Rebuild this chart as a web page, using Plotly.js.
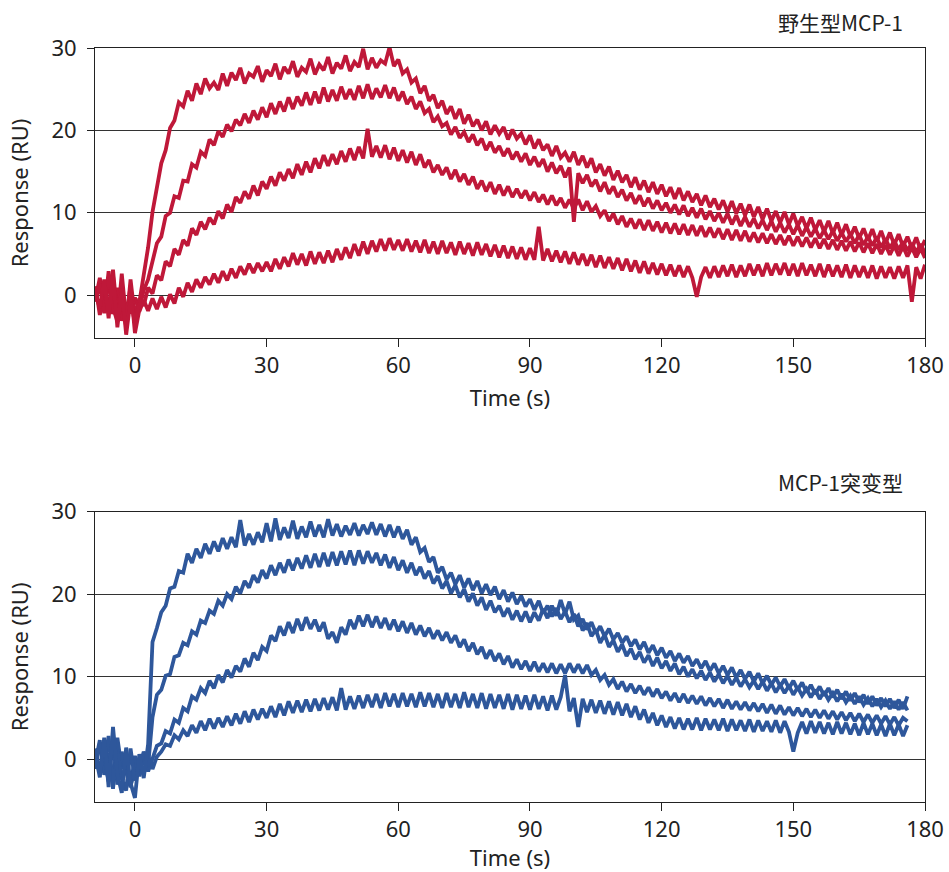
<!DOCTYPE html>
<html>
<head>
<meta charset="utf-8">
<script src="https://cdn.plot.ly/plotly-3.0.1.min.js"></script>
<style>html,body{margin:0;padding:0;background:#fff;}#chart{width:949px;height:872px;}</style>
</head>
<body>
<div id="chart"></div>
<script>
// time points (s)
const timeS = [
-9,-8,-7,-6,-5,-4,-3,-2,-1,0,
1,2,3,4,5,6,7,8,9,10,
11,12,13,14,15,16,17,18,19,20,
21,22,23,24,25,26,27,28,29,30,
31,32,33,34,35,36,37,38,39,40,
41,42,43,44,45,46,47,48,49,50,
51,52,53,54,55,56,57,58,59,60,
61,62,63,64,65,66,67,68,69,70,
71,72,73,74,75,76,77,78,79,80,
81,82,83,84,85,86,87,88,89,90,
91,92,93,94,95,96,97,98,99,100,
101,102,103,104,105,106,107,108,109,110,
111,112,113,114,115,116,117,118,119,120,
121,122,123,124,125,126,127,128,129,130,
131,132,133,134,135,136,137,138,139,140,
141,142,143,144,145,146,147,148,149,150,
151,152,153,154,155,156,157,158,159,160,
161,162,163,164,165,166,167,168,169,170,
171,172,173,174,175,176,177,178,179,180];

// 野生型MCP-1 (top panel), four concentrations
const wtA = [
0.3,-1.6,1.9,-2.8,2.4,-3.9,0.8,-4.8,-0.6,-3.4,
-0.9,2.2,5.8,10.1,12.9,16.0,17.6,20.3,21.2,23.4,
22.9,24.8,23.6,25.7,24.4,26.3,25.1,25.8,24.9,26.9,
25.4,27.0,26.1,27.6,25.7,26.9,26.5,27.8,25.9,27.3,
26.6,28.1,26.2,27.7,26.9,28.4,26.5,27.6,27.1,28.7,
26.8,28.0,27.3,28.9,26.9,28.2,27.5,29.1,27.2,28.3,
27.7,29.9,27.4,28.8,27.6,28.5,28.1,30.1,27.8,28.6,
26.9,27.4,25.8,26.3,24.5,25.4,23.6,24.3,22.7,23.6,
22.0,22.9,21.4,22.6,20.8,21.9,20.5,21.3,20.0,21.1,
19.5,20.6,19.6,20.4,18.9,20.1,19.0,19.6,18.3,19.4,
17.8,18.9,17.6,18.3,16.9,18.1,16.7,17.3,16.2,17.4,
15.8,16.9,15.5,16.6,14.9,15.9,14.5,15.6,14.0,15.1,
13.7,14.6,13.1,14.3,12.8,13.9,12.5,13.7,12.3,13.4,
12.0,13.1,11.7,13.0,11.5,12.6,11.3,12.3,10.9,12.1,
10.7,11.7,10.4,11.5,10.1,11.4,9.9,11.1,9.7,11.0,
9.5,10.7,9.2,10.5,9.0,10.2,8.8,10.1,8.6,9.9,
8.4,9.5,8.1,9.4,7.9,9.1,7.7,9.0,7.5,8.8,
7.3,8.6,7.1,8.3,6.9,8.1,6.7,8.0,6.5,7.8,
6.3,7.6,6.1,7.4,5.9,7.1,5.7,7.0,5.5,6.7];
const wtB = [
-0.8,1.4,-2.2,2.9,-1.5,-3.2,2.6,-2.9,1.1,-4.6,
-1.8,0.6,1.9,4.2,6.3,7.1,9.6,10.0,12.0,11.8,
13.9,13.8,15.9,15.5,17.4,16.9,18.9,18.2,19.9,19.2,
20.7,19.9,21.3,20.6,22.0,20.9,22.4,21.3,22.8,21.6,
23.3,22.0,23.5,22.3,24.0,22.6,24.1,23.0,24.6,23.1,
24.7,23.3,25.2,23.5,24.9,23.6,25.3,23.8,25.0,23.7,
25.4,23.9,25.6,23.8,25.1,24.0,25.5,23.9,25.2,23.6,
24.7,23.2,24.1,22.6,23.5,22.1,22.6,21.0,21.7,20.5,
20.9,19.5,20.4,19.1,19.8,18.6,19.5,18.2,19.0,17.6,
18.6,17.3,18.1,16.9,17.8,16.5,17.4,16.2,17.2,15.8,
16.8,15.6,16.5,15.0,16.1,14.8,15.7,14.3,15.5,8.9,
14.8,13.6,14.6,13.2,14.0,12.6,13.7,12.3,13.2,11.9,
12.8,11.5,12.4,11.1,12.1,10.8,11.8,10.5,11.5,10.3,
11.2,10.0,11.0,9.8,10.9,9.6,10.6,9.4,10.5,9.2,
10.2,9.0,10.0,8.8,9.9,8.6,9.7,8.4,9.5,8.3,
9.3,8.1,9.1,7.9,9.0,7.7,8.8,7.6,8.6,7.4,
8.5,7.2,8.3,7.1,8.1,6.9,7.9,6.8,7.8,6.6,
7.6,6.5,7.4,6.3,7.3,6.1,7.1,6.0,7.0,5.8,
6.8,5.7,6.6,5.5,6.5,5.4,6.3,5.2,6.2,5.1];
const wtC = [
1.1,-2.4,0.6,-1.7,3.1,-2.6,-0.9,-3.8,1.9,-2.7,
-0.4,-1.3,0.9,0.2,2.4,1.8,4.1,3.5,5.6,4.9,
6.7,6.0,8.1,7.3,8.9,8.0,9.4,8.6,10.2,9.3,
11.0,10.1,11.9,11.2,12.6,11.7,13.3,12.1,13.8,12.9,
14.4,13.3,14.9,13.9,15.3,14.2,15.9,14.6,16.2,14.9,
16.6,15.4,17.0,15.7,17.1,15.9,17.5,16.2,17.8,16.4,
18.0,16.6,20.2,16.8,18.1,16.7,18.2,16.5,17.9,16.3,
17.6,16.1,17.4,15.8,17.1,15.5,16.4,14.9,15.8,14.6,
15.5,14.1,15.2,13.8,14.7,13.4,14.4,12.9,13.9,12.6,
13.7,12.3,13.4,12.1,13.2,11.9,12.9,11.8,12.7,11.5,
12.5,11.3,12.2,11.0,12.1,10.9,11.8,10.6,11.6,10.5,
11.6,10.3,11.4,10.1,10.8,9.6,10.3,9.0,9.9,8.6,
9.6,8.3,9.3,8.1,9.2,7.9,9.1,7.8,8.9,7.6,
8.8,7.5,8.7,7.4,8.6,7.3,8.5,7.2,8.4,7.1,
8.2,7.0,8.1,6.8,8.0,6.7,7.9,6.6,7.8,6.5,
7.6,6.4,7.5,6.3,7.4,6.2,7.3,6.1,7.2,6.0,
7.1,5.9,7.0,5.8,6.9,5.7,6.8,5.6,6.7,5.5,
6.6,5.4,6.5,5.3,6.4,5.2,6.3,5.1,6.2,5.0,
6.1,4.9,6.0,4.8,5.9,4.7,5.8,4.6,5.7,4.5];
const wtD = [
-0.5,2.1,-1.1,1.6,-2.3,0.9,-3.1,-1.4,-2.2,-0.3,
-2.0,-0.6,-1.9,-0.4,-1.7,-0.2,-1.5,0.1,-1.0,0.9,
-0.2,1.5,0.4,1.9,0.9,2.2,1.3,2.6,1.5,2.9,
1.8,3.2,2.1,3.5,2.5,3.8,2.7,3.9,2.9,4.0,
2.9,4.4,3.2,4.6,3.5,5.1,3.7,5.0,3.6,5.3,
3.8,5.2,3.9,5.4,4.0,5.6,4.3,5.8,4.5,6.2,
4.8,6.5,5.0,6.6,5.3,6.8,5.4,6.9,5.5,6.7,
5.4,6.8,5.3,6.6,5.2,6.7,5.1,6.5,5.0,6.6,
5.1,6.4,4.9,6.5,5.0,6.3,4.8,6.4,4.9,6.2,
4.7,6.1,4.6,6.0,4.5,5.9,4.4,5.8,4.3,5.7,
4.3,8.3,4.2,5.6,4.1,5.4,4.0,5.3,3.8,5.2,
3.7,5.0,3.6,4.9,3.4,4.8,3.3,4.6,3.2,4.5,
3.0,4.4,2.9,4.2,2.7,4.1,2.6,3.9,2.5,3.8,
2.4,3.7,2.3,3.6,2.2,3.5,2.1,-0.2,2.2,3.4,
2.1,3.5,2.2,3.6,2.3,3.7,2.2,3.6,2.3,3.8,
2.4,3.7,2.3,3.9,2.4,3.8,2.5,3.9,2.4,3.8,
2.3,3.9,2.4,3.7,2.3,3.8,2.2,3.7,2.3,3.6,
2.2,3.7,2.1,3.6,2.2,3.5,2.1,3.6,2.0,3.5,
2.1,3.4,2.0,3.5,2.1,3.6,-0.8,3.4,2.0,3.7];

// MCP-1突变型 (bottom panel), four concentrations (to t = 176 s)
const mutA = [
0.5,-2.2,2.6,-3.4,3.9,-1.8,-4.1,1.4,-2.9,-4.7,
0.6,-2.3,1.8,14.2,15.9,17.8,18.6,20.7,20.9,22.8,
22.6,24.9,23.8,25.5,24.4,26.1,24.9,26.4,25.2,26.8,
25.5,26.9,25.7,29.0,25.9,27.3,26.0,27.5,26.3,28.6,
26.4,29.2,26.6,28.1,26.8,28.9,26.7,28.2,26.9,28.8,
27.0,28.4,26.9,29.1,27.1,28.5,27.0,28.3,27.2,28.6,
27.1,28.4,27.3,28.7,27.2,28.5,27.0,28.4,26.9,28.2,
26.7,27.8,26.0,26.9,25.1,25.6,23.9,24.5,22.6,23.3,
21.8,22.6,21.2,22.3,20.8,21.9,20.5,21.6,20.1,21.2,
19.9,20.9,19.4,20.5,19.1,20.2,18.8,19.8,18.5,19.4,
18.1,19.2,17.7,18.6,17.3,18.3,17.0,17.9,16.6,17.6,
16.1,17.0,15.7,16.6,15.3,16.1,14.9,15.8,14.5,15.3,
14.1,14.9,13.7,14.5,13.3,14.2,12.9,13.8,12.6,13.5,
12.3,13.1,11.9,12.8,11.7,12.5,11.3,12.1,11.0,11.9,
10.7,11.6,10.4,11.3,10.2,11.1,9.9,10.8,9.7,10.6,
9.4,10.4,9.2,10.1,9.0,9.9,8.8,9.7,8.6,9.5,
8.4,9.3,8.1,9.0,7.9,8.8,7.7,8.6,7.5,8.4,
7.3,8.2,7.1,8.0,6.9,7.8,6.7,7.6,6.5,7.4,
6.4,7.3,6.2,7.2,6.1,7.6];
const mutB = [
-1.2,1.9,-0.7,2.8,-3.6,1.1,-2.4,-3.8,1.3,-2.6,
-1.0,0.9,-0.8,5.1,7.8,8.4,10.1,10.3,12.4,12.6,
14.1,13.8,15.5,15.1,16.8,16.5,18.0,17.6,19.2,18.6,
20.0,19.4,20.9,20.1,21.6,20.8,22.3,21.4,22.9,21.9,
23.5,22.3,23.8,22.6,24.2,22.9,24.4,23.1,24.7,23.2,
24.9,23.3,25.0,23.4,25.1,23.5,25.2,23.6,25.3,23.5,
25.3,23.7,25.2,23.8,25.0,23.5,24.8,23.2,24.5,22.9,
24.1,22.6,23.8,22.3,23.3,21.9,22.8,21.3,22.2,20.7,
21.6,20.1,21.1,19.6,20.6,19.1,20.1,18.6,19.6,18.1,
19.2,17.8,18.6,17.3,18.3,16.9,18.0,16.7,17.9,16.6,
17.8,16.8,18.2,17.1,18.6,17.4,19.3,17.6,19.1,16.9,
17.4,15.6,16.5,14.9,15.7,14.1,15.1,13.6,14.4,13.0,
13.9,12.5,13.4,12.1,13.0,11.7,12.6,11.3,12.3,11.0,
11.9,10.7,11.6,10.3,11.2,10.0,10.9,9.8,10.7,9.6,
10.5,9.4,10.3,9.2,10.1,9.0,9.9,8.8,9.7,8.7,
9.5,8.5,9.4,8.3,9.2,8.1,9.0,8.0,8.9,7.8,
8.7,7.7,8.5,7.5,8.4,7.3,8.2,7.2,8.0,7.0,
7.9,6.9,7.7,6.7,7.6,6.6,7.4,6.4,7.3,6.3,
7.1,6.1,7.0,6.0,6.9,5.9];
const mutC = [
1.3,-1.4,0.2,-2.7,2.2,-3.1,0.9,-1.6,-3.4,0.4,
-2.1,0.3,-1.5,0.2,1.6,1.9,3.4,3.1,4.8,4.4,
6.2,5.8,7.6,7.2,8.6,8.0,9.5,8.6,10.2,9.3,
10.8,9.9,11.3,10.6,12.2,11.2,12.9,12.0,13.6,13.1,
15.0,14.3,16.1,15.0,16.6,15.3,17.0,15.6,17.2,15.8,
16.9,15.5,16.6,14.6,15.4,14.1,16.0,15.1,16.9,15.8,
17.4,16.1,17.5,16.0,17.3,15.9,17.1,15.7,16.9,15.5,
16.7,15.3,16.5,15.1,16.2,14.9,15.9,14.6,15.6,14.4,
15.4,14.1,15.0,13.6,14.5,13.1,14.1,12.7,13.6,12.2,
13.2,11.9,12.8,11.5,12.5,11.1,12.1,10.9,11.9,10.7,
11.8,10.6,11.6,10.5,11.6,10.4,11.5,10.4,11.6,10.5,
11.5,10.4,11.4,10.2,10.8,9.6,10.2,9.0,9.7,8.5,
9.4,8.2,9.1,8.0,8.9,7.8,8.7,7.6,8.5,7.4,
8.2,7.1,8.0,6.9,7.9,6.8,7.7,6.7,7.6,6.5,
7.4,6.4,7.3,6.2,7.2,6.1,7.0,6.0,6.9,5.9,
6.8,5.8,6.7,5.6,6.6,5.5,6.5,5.4,6.3,5.3,
6.2,5.2,6.1,5.1,6.0,5.0,5.9,4.9,5.8,4.8,
5.7,4.7,5.6,4.6,5.5,4.5,5.4,4.4,5.3,4.3,
5.2,4.2,5.1,4.1,5.0,4.6];
const mutD = [
-0.4,2.3,-1.9,0.7,-2.8,2.6,-1.2,0.5,-3.3,-1.1,
-0.2,-1.8,0.4,-1.2,0.3,0.9,1.8,1.6,2.9,2.4,
3.5,2.8,4.1,3.2,4.6,3.5,4.9,3.7,5.0,3.9,
5.2,4.1,5.5,4.3,5.8,4.5,6.0,4.8,6.1,5.0,
6.4,5.1,6.7,5.3,7.0,5.6,7.1,5.7,7.2,5.8,
7.3,5.9,7.4,6.0,7.5,5.9,8.6,6.0,7.6,6.1,
7.7,6.2,7.8,6.3,7.9,6.2,8.0,6.4,7.9,6.3,
8.0,6.4,7.9,6.3,8.1,6.4,8.0,6.3,7.9,6.2,
8.0,6.3,7.9,6.2,8.1,6.3,7.9,6.2,8.0,6.1,
7.9,6.2,7.8,6.1,7.9,6.0,7.8,6.1,7.7,6.0,
7.8,6.1,7.6,5.9,7.7,6.0,7.5,10.2,5.8,7.4,
3.9,7.3,5.7,7.2,5.6,7.1,5.5,7.0,5.4,6.9,
5.3,6.7,5.1,6.4,4.8,6.0,4.4,5.6,4.1,5.3,
3.9,5.1,3.7,5.0,3.6,4.9,3.6,5.0,3.5,4.9,
3.6,4.8,3.5,4.9,3.4,4.8,3.5,4.7,3.4,4.8,
3.3,4.7,3.4,4.6,3.3,4.7,3.2,4.6,3.3,0.9,
3.2,4.5,3.1,4.6,3.2,4.5,3.1,4.4,3.0,4.5,
3.1,4.4,3.0,4.3,2.9,4.4,3.0,4.3,2.9,4.2,
2.8,4.3,2.9,4.2,2.8,4.1];

const xTicks = [0, 30, 60, 90, 120, 150, 180];
const yTicks = [0, 10, 20, 30];
const panelTitles = ['野生型MCP-1', 'MCP-1突变型'];
const xTitle = 'Time (s)';
const yTitle = 'Response (RU)';

const RED = '#bf1839';
const BLUE = '#2e579b';
const LW = 3.8;

function tr(y, color, xa, ya) {
  return {x: timeS, y: y, type: 'scatter', mode: 'lines', xaxis: xa, yaxis: ya,
    line: {color: color, width: LW}, hoverinfo: 'skip'};
}
const data = [
  tr(wtD, RED, 'x', 'y'), tr(wtC, RED, 'x', 'y'), tr(wtB, RED, 'x', 'y'), tr(wtA, RED, 'x', 'y'),
  tr(mutD, BLUE, 'x2', 'y2'), tr(mutC, BLUE, 'x2', 'y2'), tr(mutB, BLUE, 'x2', 'y2'), tr(mutA, BLUE, 'x2', 'y2')
];

const FONT = 'Noto Sans, Open Sans, sans-serif';
function xax(anchor) {
  return {anchor: anchor, domain: [0, 1], range: [-9.1, 180], tickvals: xTicks,
    ticks: 'outside', ticklen: 8, tickwidth: 1, tickcolor: '#222',
    showline: true, linecolor: '#222', linewidth: 1, mirror: true,
    showgrid: false, zeroline: false,
    tickfont: {size: 22, color: '#222', family: FONT},
    title: {text: xTitle, standoff: 12, font: {size: 22, color: '#222', family: FONT}}};
}
function yax(anchor, domain) {
  return {anchor: anchor, domain: domain, range: [-5.2, 30], tickvals: yTicks,
    ticks: 'outside', ticklen: 7, tickwidth: 1, tickcolor: '#222',
    showline: true, linecolor: '#222', linewidth: 1, mirror: true,
    showgrid: true, gridcolor: '#333', gridwidth: 1, zeroline: false,
    ticklabelstandoff: 6,
    tickfont: {size: 22, color: '#222', family: FONT},
    title: {text: yTitle, standoff: 16, font: {size: 22, color: '#222', family: FONT}}};
}

const layout = {
  width: 949, height: 872,
  margin: {l: 95, r: 24, t: 48, b: 70, pad: 0},
  paper_bgcolor: '#ffffff', plot_bgcolor: '#ffffff',
  showlegend: false,
  font: {family: FONT, size: 22, color: '#222'},
  xaxis: xax('y'),
  yaxis: yax('x', [0.6154, 1]),
  xaxis2: xax('y2'),
  yaxis2: yax('x2', [0, 0.385]),
  annotations: [
    {text: panelTitles[0], xref: 'paper', yref: 'paper', x: 0.976, y: 1.0345,
     xanchor: 'right', yanchor: 'middle', showarrow: false,
     font: {family: 'Noto Sans CJK SC, Noto Sans, sans-serif', size: 21, color: '#222'}},
    {text: panelTitles[1], xref: 'paper', yref: 'paper', x: 0.976, y: 0.4244,
     xanchor: 'right', yanchor: 'middle', showarrow: false,
     font: {family: 'Noto Sans CJK SC, Noto Sans, sans-serif', size: 21, color: '#222'}}
  ]
};

Plotly.newPlot('chart', data, layout, {staticPlot: true, displayModeBar: false});
</script>
</body>
</html>
